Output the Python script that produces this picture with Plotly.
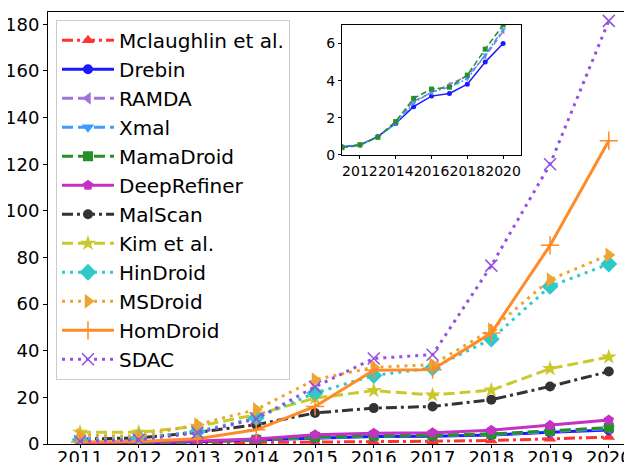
import plotly.graph_objects as go

years = [2011, 2012, 2013, 2014, 2015, 2016, 2017, 2018, 2019, 2020]

# approach names, in legend order
names = ["Mclaughlin et al.", "Drebin", "RAMDA", "Xmal", "MamaDroid", "DeepRefiner",
         "MalScan", "Kim et al.", "HinDroid", "MSDroid", "HomDroid", "SDAC"]

mclaughlin = [0.2, 0.3, 0.4, 0.6, 0.8, 1.0, 1.2, 1.5, 2.2, 3.0]
drebin = [0.45, 0.54, 1.0, 1.7, 2.6, 3.17, 3.31, 3.81, 5.0, 6.0]
ramda = [0.4, 0.5, 1.0, 1.8, 2.9, 3.35, 3.8, 4.25, 5.3, 6.65]
xmal = [0.45, 0.55, 0.95, 1.7, 2.8, 3.4, 3.65, 4.1, 5.4, 6.75]
mamadroid = [0.4, 0.55, 0.95, 1.8, 3.05, 3.55, 3.65, 4.3, 5.7, 7.0]
deeprefiner = [0.5, 0.8, 1.3, 2.1, 4.0, 4.6, 4.8, 5.9, 8.0, 10.3]
malscan = [2.1, 2.6, 5.0, 8.3, 13.3, 15.4, 16.1, 19.0, 24.7, 31.1]
kim = [5.0, 5.0, 7.6, 12.6, 19.7, 22.9, 21.0, 23.1, 32.3, 37.3]
hindroid = [1.8, 2.6, 5.4, 11.2, 21.9, 29.4, 32.6, 45.0, 67.6, 77.2]
msdroid = [3.8, 3.3, 8.3, 14.8, 27.6, 32.9, 34.0, 49.0, 70.5, 81.1]
homdroid = [0.9, 1.1, 2.3, 6.1, 16.1, 31.6, 31.9, 47.6, 85.2, 130.1]
sdac = [1.2, 1.8, 4.8, 10.8, 24.5, 36.7, 38.3, 76.5, 120.0, 181.5]

series = [mclaughlin, drebin, ramda, xmal, mamadroid, deeprefiner,
          malscan, kim, hindroid, msdroid, homdroid, sdac]

colors = ["#ff3333", "#1a1aff", "#a374d8", "#3b9cff", "#259025", "#c431c4",
          "#333333", "#c9c92e", "#2fc9c9", "#eea430", "#ff8a26", "#9450e2"]
dashes = ["11px,4px,3px,4px", "solid", "11px,5px", "11px,5px", "11px,5px", "solid",
          "11px,4px,3px,4px", "11px,5px", "3px,5px", "3px,5px", "solid", "3px,5px"]
symbols = ["triangle-up", "circle", "triangle-left", "triangle-down", "square", "pentagon",
           "circle", "star", "diamond", "triangle-right", "cross-thin", "x-thin"]
msizes = [11, 10, 11, 11, 10, 11, 10, 12, 13, 13, 13, 12]

# inset zooms on the four lowest curves
inset_idx = [1, 2, 3, 4]
inset_dash = {1: "solid", 2: "6px,3px", 3: "6px,2px,2px,2px", 4: "6px,3px"}

FONT = "DejaVu Sans, sans-serif"

fig = go.Figure()

for i, (name, vals) in enumerate(zip(names, series)):
    thin = symbols[i] in ("cross-thin", "x-thin")
    fig.add_trace(go.Scatter(
        x=years, y=vals, name=name, legendgroup=name,
        mode="lines+markers",
        line=dict(color=colors[i], width=3, dash=dashes[i]),
        marker=dict(symbol=symbols[i], size=msizes[i], color=colors[i],
                    line=dict(color=colors[i], width=1.5 if thin else 0)),
    ))

for i in inset_idx:
    fig.add_trace(go.Scatter(
        x=years, y=series[i], xaxis="x2", yaxis="y2", showlegend=False,
        mode="lines+markers",
        line=dict(color=colors[i], width=1.5, dash=inset_dash[i]),
        marker=dict(symbol=symbols[i], size=5, color=colors[i]),
    ))

# the page body adds an 8px offset, margins are set to compensate
fig.update_layout(
    width=632, height=462,
    margin=dict(l=40, r=5, t=4, b=26),
    plot_bgcolor="white", paper_bgcolor="white",
    font=dict(family=FONT, color="black", size=18),
    xaxis=dict(range=[2010.455, 2020.446], tickvals=years, showgrid=False,
               showline=True, linecolor="black", linewidth=1, mirror=True,
               ticks="outside", ticklen=3, tickcolor="black", zeroline=False,
               automargin=False, tickangle=0, ticklabelstandoff=-6,
               tickfont=dict(size=18)),
    yaxis=dict(range=[0, 185.3], dtick=20, showgrid=False,
               showline=True, linecolor="black", linewidth=1, mirror=True,
               ticks="outside", ticklen=4, tickcolor="black", zeroline=False,
               automargin=False, tickfont=dict(size=18)),
    xaxis2=dict(domain=[0.5009, 0.8058], anchor="y2", range=[2011, 2021],
                tickvals=[2012, 2014, 2016, 2018, 2020], showgrid=False,
                showline=True, linecolor="black", linewidth=1, mirror=True,
                ticks="outside", ticklen=3, tickcolor="black", zeroline=False,
                automargin=False, tickangle=0, tickfont=dict(size=14)),
    yaxis2=dict(domain=[0.669, 0.970], anchor="x2", range=[0, 7],
                tickvals=[0, 2, 4, 6], showgrid=False,
                showline=True, linecolor="black", linewidth=1, mirror=True,
                ticks="outside", ticklen=3, tickcolor="black", zeroline=False,
                automargin=False, tickfont=dict(size=14)),
    legend=dict(x=0.0136, y=0.982, xanchor="left", yanchor="top",
                bgcolor="rgba(255,255,255,0.8)", bordercolor="#cccccc", borderwidth=1,
                font=dict(size=20), tracegroupgap=0, itemwidth=52),
    showlegend=True,
)

fig.write_html("out.html")
